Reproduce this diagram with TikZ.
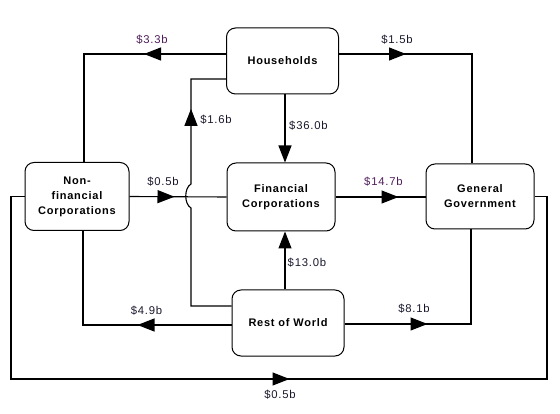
\documentclass[tikz,border=0pt]{standalone}
\usepackage{fontspec}
\setmainfont{Liberation Sans}[LetterSpace=7]
\usetikzlibrary{arrows.meta,decorations.markings,calc}
\definecolor{lblcol}{RGB}{25,25,45}
\definecolor{lblpurple}{RGB}{80,30,90}
\begin{document}
\begin{tikzpicture}[x=1pt,y=-1pt,
  box/.style={draw, rounded corners=9pt, line width=1pt, align=center,
    font=\bfseries\fontsize{11}{15}\selectfont, inner sep=0pt},
  flow/.style={line width=1.1pt},
  tip/.style={-{Triangle[length=17pt,width=13pt]}},
  midarrow/.style={postaction={decorate}, decoration={markings,
    mark=at position #1 with {\arrow{Triangle[length=17pt,width=13pt]}}}},
  lbl/.style={inner sep=0pt, text=lblcol, font=\fontsize{11.3}{13}\selectfont},
]
\useasboundingbox[fill=white] (0,0) rectangle (560,414);

\node[box, minimum width=112pt, minimum height=66pt] (H) at (282.5,61) {Households};
\node[box, minimum width=104pt, minimum height=68pt] (NFC) at (77,196.5) {Non-\\financial\\Corporations};
\node[box, minimum width=108pt, minimum height=68pt] (FC) at (281,197) {Financial\\Corporations};
\node[box, minimum width=108pt, minimum height=65pt] (GG) at (480,196.5) {General\\Government};
\node[box, minimum width=112pt, minimum height=66pt] (RoW) at (288,323) {Rest of World};

% Households -> NFC
\draw[flow, midarrow=82pt] ([yshift=7pt]H.west) -| ([xshift=7pt]NFC.north);
% Households -> GG
\draw[flow, midarrow=67pt] ([yshift=7pt]H.east) -| ([xshift=-8pt]GG.north);
% Households -> FC
\draw[flow, tip] ([xshift=2.5pt]H.south) -- ([xshift=4pt]FC.north);
% RoW -> FC
\draw[flow, tip] ([xshift=-3pt]RoW.north) -- ([xshift=4pt]FC.south);
% RoW -> Households (with jump)
\draw[flow, midarrow=241pt] ([yshift=17pt]RoW.west) -- (191,306) -- (191,208)
  .. controls (184,204) and (184,188) .. (191,184) -- (191,79) -- ([yshift=-18pt]H.west);
% NFC -> FC
\draw[flow, midarrow=45pt] (NFC.east) -- (FC.west);
% FC -> GG
\draw[flow, midarrow=63pt] (FC.east) -- (FC.east -| GG.west);
% RoW -> NFC
\draw[flow, midarrow=94pt] ([yshift=-2pt]RoW.west) -| ([xshift=6pt]NFC.south);
% RoW -> GG
\draw[flow, midarrow=83pt] ([yshift=-1pt]RoW.east) -| ([xshift=-9pt]GG.south);
% NFC -> GG (around the bottom)
\draw[flow, midarrow=474.5pt] (NFC.west) -- (11,196.5) -- (11,379) -- (547,379) -- (547,196.5) -- (GG.east);

\node[lbl, text=lblpurple] (l1) at (152,39.5) {\$3.3b};
\node[lbl] (l2) at (397,39.5) {\$1.5b};
\node[lbl] (l3) at (216,119.5) {\$1.6b};
\node[lbl] (l4) at (308.5,126) {\$36.0b};
\node[lbl] (l5) at (163,181.5) {\$0.5b};
\node[lbl, text=lblpurple] (l6) at (383.5,181.5) {\$14.7b};
\node[lbl] (l7) at (307,263) {\$13.0b};
\node[lbl] (l8) at (146.5,310.5) {\$4.9b};
\node[lbl] (l9) at (414,308.5) {\$8.1b};
\node[lbl] (l10) at (280,394.5) {\$0.5b};
\end{tikzpicture}
\end{document}
